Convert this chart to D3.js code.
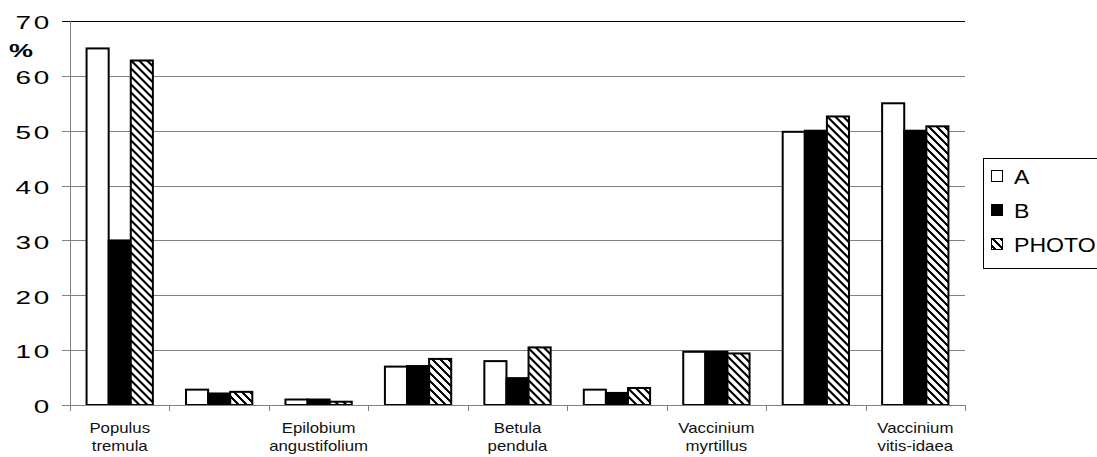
<!DOCTYPE html>
<html>
<head>
<meta charset="utf-8">
<script src="https://cdn.jsdelivr.net/npm/d3@7"></script>
<style>
  html, body { margin: 0; padding: 0; background: #fff; }
  svg { display: block; font-family: "Liberation Sans", Arial, sans-serif; }
</style>
</head>
<body>
<svg id="chart" width="1097" height="457"></svg>
<script>
// Species groups; only every other group carries a label on the axis
const categories = ["g1", "g2", "g3", "g4", "g5", "g6", "g7", "g8", "g9"];
const categoryLabels = [
  ["Populus", "tremula"], [], ["Epilobium", "angustifolium"], [],
  ["Betula", "pendula"], [], ["Vaccinium", "myrtillus"], [],
  ["Vaccinium", "vitis-idaea"]
];
const seriesNames = ["A", "B", "PHOTO"];
const valuesA     = [65, 2.8, 1.0, 7.0, 8.0, 2.8, 9.7, 49.8, 55.0];
const valuesB     = [30, 2.1, 1.0, 7.1, 4.9, 2.2, 9.7, 50.0, 50.0];
const valuesPhoto = [62.8, 2.4, 0.6, 8.4, 10.5, 3.1, 9.4, 52.6, 50.8];
const yTicks = [0, 10, 20, 30, 40, 50, 60, 70];

const seriesValues = [valuesA, valuesB, valuesPhoto];
const svg = d3.select("#chart");

const plot = { left: 70, right: 965, top: 21, bottom: 405 };

const x = d3.scaleBand()
  .domain(categories)
  .range([plot.left, plot.right])
  .paddingInner(1 / 3)
  .paddingOuter(1 / 6);

const xs = d3.scaleBand()
  .domain(seriesNames)
  .range([0, x.bandwidth()])
  .padding(0);

const y = d3.scaleLinear()
  .domain([0, 70])
  .range([plot.bottom, plot.top]);

// Diagonal hatch for the PHOTO series
const defs = svg.append("defs");
const pat = defs.append("pattern")
  .attr("id", "hatch")
  .attr("patternUnits", "userSpaceOnUse")
  .attr("width", 8)
  .attr("height", 8);
pat.append("rect").attr("width", 8).attr("height", 8).attr("fill", "#fff");
pat.append("path")
  .attr("d", "M0,0 L8,8 M-2,6 L2,10 M6,-2 L10,2")
  .attr("stroke", "#000")
  .attr("stroke-width", 2.4)
  .attr("shape-rendering", "crispEdges");

const fills = { "A": "#fff", "B": "#000", "PHOTO": "url(#hatch)" };

// Horizontal gridlines with tick stubs on the left
const grid = svg.append("g");
grid.selectAll("line")
  .data(yTicks)
  .join("line")
  .attr("x1", plot.left - 8)
  .attr("x2", plot.right)
  .attr("y1", d => Math.round(y(d)) + 0.5)
  .attr("y2", d => Math.round(y(d)) + 0.5)
  .attr("stroke", d => d === 70 ? "#000" : "#808080")
  .attr("stroke-width", 1);

// Y tick labels (wide, stretched lettering)
svg.append("g").selectAll("text")
  .data(yTicks)
  .join("text")
  .attr("transform", d => `translate(52,${y(d) + 8.3}) scale(1.55,1)`)
  .attr("text-anchor", "end")
  .attr("font-size", 18)
  .attr("letter-spacing", 1.8)
  .attr("fill", "#000")
  .text(d => d);

svg.append("text")
  .attr("transform", "translate(9,57) scale(1.5,1)")
  .attr("font-size", 18)
  .attr("font-weight", "bold")
  .attr("fill", "#000")
  .text("%");

// Bars
const groups = svg.append("g").selectAll("g")
  .data(categories)
  .join("g")
  .attr("transform", c => `translate(${x(c)},0)`);

groups.selectAll("rect")
  .data((c, i) => seriesNames.map((s, k) => ({ s, v: seriesValues[k][i] })))
  .join("rect")
  .attr("x", d => xs(d.s))
  .attr("y", d => y(d.v))
  .attr("width", xs.bandwidth())
  .attr("height", d => y(0) - y(d.v))
  .attr("fill", d => fills[d.s])
  .attr("stroke", "#000")
  .attr("stroke-width", 2);

// Axis lines
svg.append("line")
  .attr("x1", plot.left + 0.5).attr("x2", plot.left + 0.5)
  .attr("y1", plot.top).attr("y2", plot.bottom)
  .attr("stroke", "#808080");
svg.append("line")
  .attr("x1", plot.left).attr("x2", plot.right)
  .attr("y1", plot.bottom + 0.5).attr("y2", plot.bottom + 0.5)
  .attr("stroke", "#808080");

// Category boundary ticks on the x axis
const boundaries = categories.map(c => x(c) - x.step() * x.paddingInner() / 2)
  .concat([plot.right]);
svg.append("g").selectAll("line")
  .data(boundaries)
  .join("line")
  .attr("x1", d => Math.round(d) + 0.5)
  .attr("x2", d => Math.round(d) + 0.5)
  .attr("y1", plot.bottom)
  .attr("y2", plot.bottom + 6)
  .attr("stroke", "#808080");

// Category labels
const lab = svg.append("g").selectAll("g")
  .data(categories)
  .join("g")
  .attr("transform", c => `translate(${x(c) + x.bandwidth() / 2},0) scale(1.2,1)`);
lab.each(function(c, i) {
  const g = d3.select(this);
  categoryLabels[i].forEach((line, j) => {
    g.append("text")
      .attr("x", 0)
      .attr("y", 433 + j * 18.5)
      .attr("text-anchor", "middle")
      .attr("font-size", 14)
      .attr("fill", "#111")
      .text(line);
  });
});

// Legend
const legend = svg.append("g");
legend.append("rect")
  .attr("x", 983.5).attr("y", 158.5)
  .attr("width", 130).attr("height", 110)
  .attr("fill", "#fff")
  .attr("stroke", "#000");
const li = legend.selectAll("g.item")
  .data(seriesNames)
  .join("g")
  .attr("class", "item")
  .attr("transform", (d, i) => `translate(0,${170 + i * 34})`);
li.append("rect")
  .attr("x", 991.5).attr("y", 0.5)
  .attr("width", 11).attr("height", 11)
  .attr("fill", d => fills[d])
  .attr("stroke", "#000")
  .attr("stroke-width", 1);
li.append("text")
  .attr("transform", "translate(1014,14) scale(1.1,1)")
  .attr("font-size", 21)
  .attr("fill", "#000")
  .text(d => d);
</script>
</body>
</html>
